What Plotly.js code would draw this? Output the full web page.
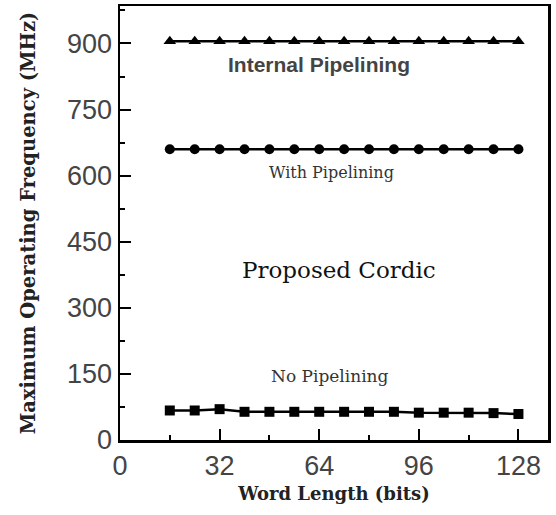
<!DOCTYPE html>
<html>
<head>
<meta charset="utf-8">
<script src="https://cdn.plot.ly/plotly-3.0.1.min.js"></script>
<style>html,body{margin:0;padding:0;background:#fff;}#chart{width:556px;height:515px;}</style>
</head>
<body>
<div id="chart"></div>
<script>
const wordLength = [16, 24, 32, 40, 48, 56, 64, 72, 80, 88, 96, 104, 112, 120, 128];
const internalPipelining = [905, 905, 905, 905, 905, 905, 905, 905, 905, 905, 905, 905, 905, 905, 905];
const withPipelining = [660, 660, 660, 660, 660, 660, 660, 660, 660, 660, 660, 660, 660, 660, 660];
const noPipelining = [67, 67, 70, 64, 64, 64, 64, 64, 64, 64, 62, 62, 62, 61, 59];
const xTicks = [0, 32, 64, 96, 128];
const yTicks = [0, 150, 300, 450, 600, 750, 900];
const labels = [
  {text: "Internal Pipelining", x: 64, y: 852},
  {text: "With Pipelining", x: 68, y: 607},
  {text: "Proposed Cordic", x: 70.4, y: 386},
  {text: "No Pipelining", x: 67.5, y: 145}
];

const lineStyle = {color: "#000", width: 2.5};
const traces = [
  {x: wordLength, y: internalPipelining, mode: "lines+markers", line: lineStyle,
   marker: {symbol: "triangle-up", size: 11, color: "#000"}},
  {x: wordLength, y: withPipelining, mode: "lines+markers", line: lineStyle,
   marker: {symbol: "circle", size: 10, color: "#000"}},
  {x: wordLength, y: noPipelining, mode: "lines+markers", line: lineStyle,
   marker: {symbol: "square", size: 10, color: "#000"}}
];

const annFonts = [
  {family: "Liberation Sans", size: 21, color: "#444", weight: "bold"},
  {family: "DejaVu Serif", size: 16, color: "#333"},
  {family: "DejaVu Serif", size: 23, color: "#111"},
  {family: "DejaVu Serif", size: 17, color: "#333"}
];

const layout = {
  width: 556, height: 515,
  margin: {l: 120, r: 8, t: 6, b: 75},
  showlegend: false,
  paper_bgcolor: "#fff", plot_bgcolor: "#fff",
  xaxis: {
    range: [0, 137.5], tickvals: xTicks, ticktext: xTicks.map(String),
    showgrid: false, zeroline: false, showline: true, mirror: true,
    linecolor: "#000", linewidth: 2.5,
    ticks: "inside", ticklen: 11, tickwidth: 2, tickcolor: "#000",
    minor: {dtick: 16, tick0: 0, ticks: "inside", ticklen: 5, tickwidth: 2, tickcolor: "#000"},
    tickfont: {family: "Liberation Sans", size: 27, color: "#444"},
    title: {text: "Word Length (bits)", font: {family: "DejaVu Serif", size: 18, color: "#222", weight: "bold"}, standoff: 8}
  },
  yaxis: {
    range: [0, 985], tickvals: yTicks, ticktext: yTicks.map(String),
    showgrid: false, zeroline: false, showline: true, mirror: true,
    linecolor: "#000", linewidth: 2.5,
    ticks: "inside", ticklen: 11, tickwidth: 2, tickcolor: "#000",
    minor: {dtick: 75, tick0: 0, ticks: "inside", ticklen: 5, tickwidth: 2, tickcolor: "#000"},
    tickfont: {family: "Liberation Sans", size: 27, color: "#444"},
    title: {text: "Maximum Operating Frequency (MHz)", font: {family: "DejaVu Serif", size: 19.5, color: "#222", weight: "bold"}, standoff: 26}
  },
  annotations: labels.map((l, i) => ({
    text: l.text, x: l.x, y: l.y, xref: "x", yref: "y",
    showarrow: false, font: annFonts[i]
  }))
};

Plotly.newPlot("chart", traces, layout, {displayModeBar: false, staticPlot: true});
</script>
</body>
</html>
